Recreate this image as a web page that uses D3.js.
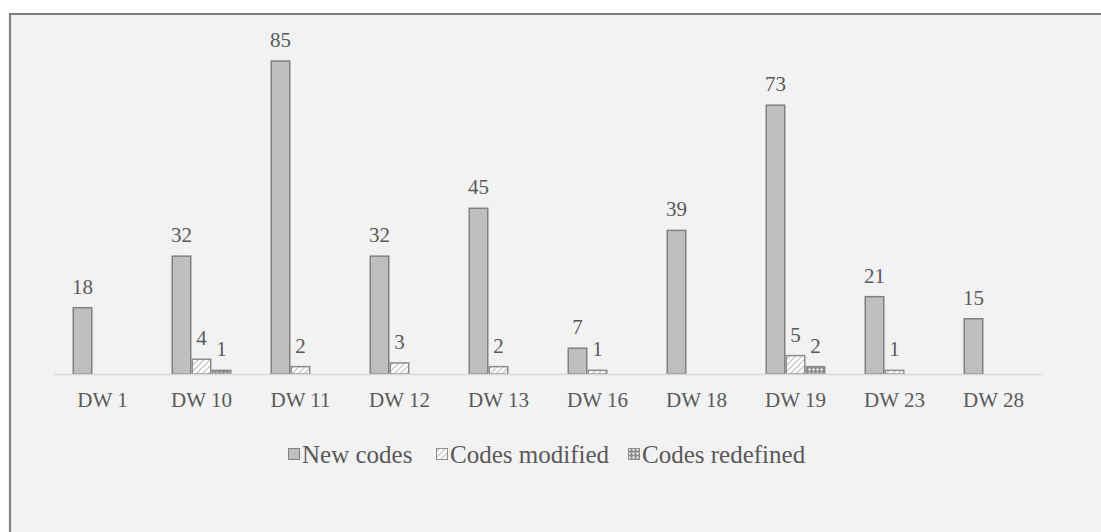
<!DOCTYPE html>
<html>
<head>
<meta charset="utf-8">
<script src="https://cdn.jsdelivr.net/npm/d3@7"></script>
<style>
  html, body { margin: 0; padding: 0; background: #ffffff; }
  svg { display: block; }
</style>
</head>
<body>
<svg id="chart" width="1101" height="532"></svg>
<script>
// Code counts per data wave
const categories = ["DW 1", "DW 10", "DW 11", "DW 12", "DW 13", "DW 16", "DW 18", "DW 19", "DW 23", "DW 28"];
const seriesNames = ["New codes", "Codes modified", "Codes redefined"];
const newCodes = [18, 32, 85, 32, 45, 7, 39, 73, 21, 15];
const codesModified = [0, 4, 2, 3, 2, 1, 0, 5, 1, 0];
const codesRedefined = [0, 1, 0, 0, 0, 0, 0, 2, 0, 0];

const seriesValues = [newCodes, codesModified, codesRedefined];

const svg = d3.select("#chart");
const W = 1101, H = 532;
const font = "'Liberation Serif', 'Times New Roman', serif";
const fontSize = 21;
const legendFontSize = 25;
const textColor = "#595959";

// Panel background with frame on top and left
svg.append("rect").attr("x", 10).attr("y", 14).attr("width", W - 10).attr("height", H - 14).attr("fill", "#f2f2f2");
svg.append("path").attr("d", `M10,${H} V14 H${W}`).attr("fill", "none").attr("stroke", "#7f7f7f").attr("stroke-width", 2.2);

// Fill patterns
const defs = svg.append("defs");
const hatch = defs.append("pattern").attr("id", "hatch").attr("patternUnits", "userSpaceOnUse")
  .attr("width", 6).attr("height", 6);
hatch.append("rect").attr("width", 6).attr("height", 6).attr("fill", "#ffffff");
hatch.append("path").attr("d", "M-1,7 L7,-1 M-1,1 L1,-1 M5,7 L7,5").attr("stroke", "#c8c8c8").attr("stroke-width", 1.4);

const dots = defs.append("pattern").attr("id", "dots").attr("patternUnits", "userSpaceOnUse")
  .attr("width", 4).attr("height", 4);
dots.append("rect").attr("width", 4).attr("height", 4).attr("fill", "#8c8c8c");
dots.append("rect").attr("x", 0.5).attr("y", 0.5).attr("width", 2).attr("height", 2).attr("fill", "#ffffff");

const fills = ["#bfbfbf", "url(#hatch)", "url(#dots)"];
const strokes = ["#808080", "#8c8c8c", "#8c8c8c"];

// Scales
const plot = { left: 53, right: 1043, bottom: 374 };
const x = d3.scaleBand().domain(categories).range([plot.left, plot.right]).paddingInner(0).paddingOuter(0);
const barW = 18.5;
const gap = 1.5;
const y = d3.scaleLinear().domain([0, 85]).range([plot.bottom, plot.bottom - 313]);

// Bars with value labels
const groupW = 3 * barW + 2 * gap;
seriesValues.forEach((vals, si) => {
  const g = svg.append("g");
  categories.forEach((c, ci) => {
    const v = vals[ci];
    if (!v) return;
    const bx = x(c) + (x.bandwidth() - groupW) / 2 + si * (barW + gap);
    g.append("rect")
      .attr("x", bx).attr("y", y(v))
      .attr("width", barW).attr("height", y(0) - y(v))
      .attr("fill", fills[si]).attr("stroke", strokes[si]).attr("stroke-width", 1.5);
    svg.append("text")
      .attr("x", bx + barW / 2).attr("y", y(v) - 14)
      .attr("text-anchor", "middle")
      .attr("font-family", font).attr("font-size", fontSize).attr("fill", textColor)
      .text(v);
  });
});

// Category axis
const xAxis = svg.append("g").attr("transform", `translate(0,${plot.bottom})`)
  .call(d3.axisBottom(x).tickSize(0).tickPadding(18));
xAxis.select(".domain").attr("stroke", "#d9d9d9").attr("stroke-width", 1.5);
xAxis.selectAll("text").attr("font-family", font).attr("font-size", fontSize).attr("fill", textColor);

// Legend
const legendItems = [
  { name: seriesNames[0], x: 288 },
  { name: seriesNames[1], x: 436 },
  { name: seriesNames[2], x: 628 }
];
legendItems.forEach((d, i) => {
  svg.append("rect").attr("x", d.x + 0.5).attr("y", 448.5).attr("width", 11).attr("height", 11)
    .attr("fill", fills[i]).attr("stroke", strokes[i]).attr("stroke-width", 1);
  svg.append("text").attr("x", d.x + 14).attr("y", 463)
    .attr("font-family", font).attr("font-size", legendFontSize).attr("fill", textColor)
    .text(d.name);
});
</script>
</body>
</html>
